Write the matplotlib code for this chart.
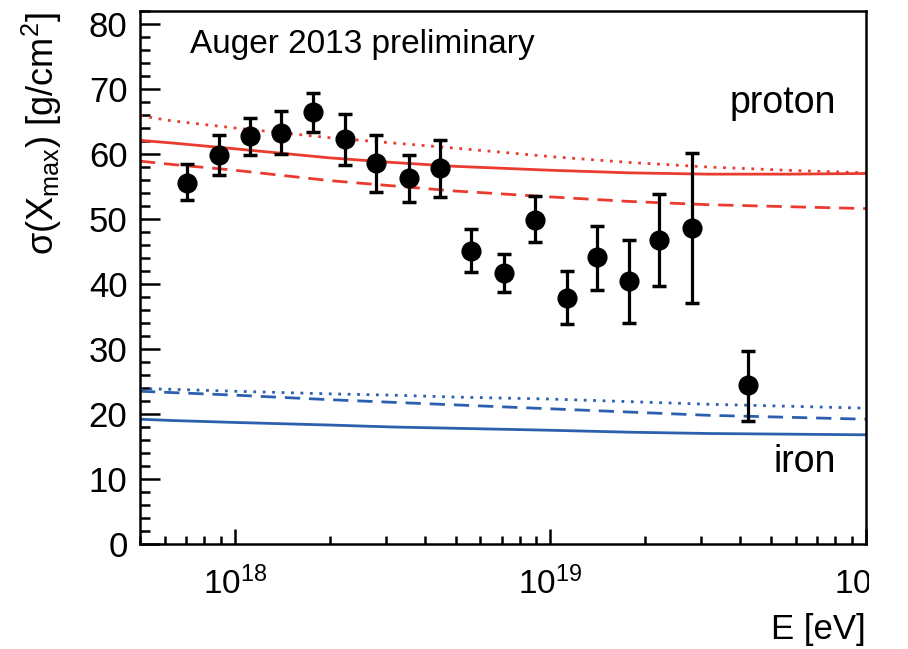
import matplotlib
matplotlib.use("Agg")
import matplotlib.pyplot as plt
from matplotlib.ticker import LogLocator, MultipleLocator, LogFormatterMathtext, NullFormatter
from matplotlib.transforms import Bbox, TransformedBbox

plt.rcParams['font.family'] = ['Liberation Sans', 'DejaVu Sans']
plt.rcParams['mathtext.fontset'] = 'custom'
plt.rcParams['mathtext.rm'] = 'Liberation Sans'
plt.rcParams['mathtext.it'] = 'Liberation Sans'
plt.rcParams['mathtext.bf'] = 'Liberation Sans:bold'

# ---- data ----
energy_eV = [7.05e17, 8.89e17, 1.117e18, 1.403e18, 1.762e18, 2.234e18, 2.805e18,
             3.548e18, 4.457e18, 5.61e18, 7.11e18, 8.91e18, 1.127e19, 1.409e19,
             1.774e19, 2.213e19, 2.818e19, 4.217e19]
sigma_xmax = [55.6, 59.8, 62.8, 63.3, 66.4, 62.3, 58.6, 56.3, 57.8, 45.1, 41.7,
              49.9, 37.9, 44.1, 40.4, 46.8, 48.6, 24.4]
err_up = [2.9, 3.2, 2.8, 3.3, 3.0, 3.9, 4.3, 3.5, 4.4, 3.3, 2.9, 3.6, 4.1, 4.9,
          6.3, 7.0, 11.5, 5.3]
err_low = [2.7, 3.1, 3.0, 3.3, 3.0, 4.0, 4.4, 3.7, 4.4, 3.3, 3.0, 3.4, 4.1, 5.0,
           6.4, 7.1, 11.5, 5.5]

model_E = [5e17, 6.3e17, 1e18, 2e18, 3.16e18, 5e18, 1e19, 1.78e19, 3.16e19, 5.6e19, 1e20]
proton_solid = [62.1, 61.7, 60.8, 59.4, 58.7, 58.1, 57.5, 57.1, 56.9, 56.9, 57.0]
proton_dotted = [65.9, 65.1, 64.0, 62.5, 61.7, 60.9, 59.6, 58.7, 58.0, 57.5, 57.1]
proton_dashed = [58.9, 58.4, 57.5, 55.9, 55.1, 54.3, 53.4, 52.7, 52.2, 51.9, 51.6]
iron_solid = [19.2, 19.0, 18.7, 18.3, 18.0, 17.8, 17.5, 17.2, 17.0, 16.9, 16.8]
iron_dashed = [23.5, 23.3, 22.9, 22.2, 21.8, 21.4, 20.8, 20.3, 19.8, 19.5, 19.2]
iron_dotted = [23.9, 23.8, 23.5, 23.1, 22.9, 22.6, 22.3, 21.9, 21.5, 21.2, 20.9]

RED = '#EB3B2F'
BLUE = '#2D5FAF'

fig = plt.figure(figsize=(9.08, 6.49), dpi=100)
ax = fig.add_axes([140/908, 1-544/649, 726/908, 533/649])

lw = 2.0
dash = (0, (5.5, 3.2))
dot = (0, (1.0, 2.4))
ax.plot(model_E, proton_solid, color=RED, lw=lw, ls='-')
ax.plot(model_E, proton_dotted, color=RED, lw=lw, ls=dot)
ax.plot(model_E, proton_dashed, color=RED, lw=lw, ls=dash)
ax.plot(model_E, iron_solid, color=BLUE, lw=lw, ls='-')
ax.plot(model_E, iron_dotted, color=BLUE, lw=lw, ls=dot)
ax.plot(model_E, iron_dashed, color=BLUE, lw=lw, ls=dash)

ax.errorbar(energy_eV, sigma_xmax, yerr=[err_low, err_up], fmt='o', color='black',
            ms=13.5, elinewidth=2.3, capsize=5, capthick=2.5, zorder=5)

ax.set_xscale('log')
ax.set_xlim(5e17, 1e20)
ax.set_ylim(0, 82)

ax.yaxis.set_major_locator(MultipleLocator(10))
ax.yaxis.set_minor_locator(MultipleLocator(2))
ax.xaxis.set_major_locator(LogLocator(base=10, numticks=10))
ax.xaxis.set_minor_locator(LogLocator(base=10, subs=range(2, 10), numticks=20))
ax.xaxis.set_major_formatter(LogFormatterMathtext())
ax.xaxis.set_minor_formatter(NullFormatter())

for s in ax.spines.values():
    s.set_linewidth(1.8)
ax.tick_params(axis='y', which='major', direction='in', length=14.4, width=1.8,
               labelsize=25, pad=9, right=False)
ax.tick_params(axis='y', which='minor', direction='in', length=7.2, width=1.8, right=False)
ax.tick_params(axis='x', which='major', direction='in', length=10.8, width=1.8,
               labelsize=24, pad=16, top=False)
ax.tick_params(axis='x', which='minor', direction='in', length=5.8, width=1.8, top=False)

fig.text(42/908, 1-12/649, r'$\mathregular{\sigma(X_{max})}$ [g/cm$\mathregular{^2}$]',
         rotation=90, ha='center', va='top', fontsize=26)
fig.text(866/908, 1-630/649, 'E [eV]', ha='right', va='center', fontsize=25)

fig.text(190/908, 1-45/649, 'Auger 2013 preliminary', ha='left', va='center', fontsize=24)
fig.text(836/908, 1-103/649, 'proton', ha='right', va='center', fontsize=27)
fig.text(836/908, 1-462/649, 'iron', ha='right', va='center', fontsize=27)

# the reference image is cut just right of the axes: clip the last tick label there
fig.canvas.draw()
clip = TransformedBbox(Bbox([[0, 0], [869/908, 1]]), fig.transFigure)
for tick in ax.xaxis.get_major_ticks():
    tick.label1.set_clip_on(True)
    tick.label1.set_clip_box(clip)

fig.savefig('out.png', dpi=100)
